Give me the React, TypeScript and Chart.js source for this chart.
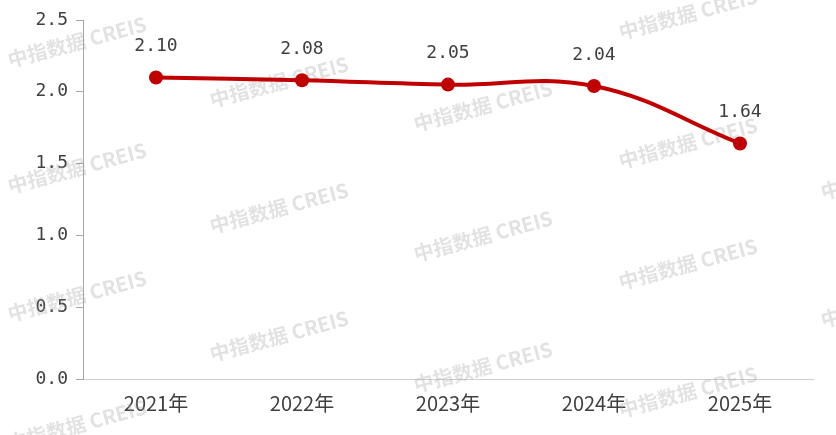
import React, { useEffect, useRef } from "react";
import { Chart, registerables } from "chart.js";

Chart.register(...registerables);

const categories = ["2021年", "2022年", "2023年", "2024年", "2025年"];
const values = [2.1, 2.08, 2.05, 2.04, 1.64];
const yTicks = [0, 0.5, 1.0, 1.5, 2.0, 2.5];

const WATERMARK = "中指数据 CREIS";
// watermark centres (layout only)
const wmCols = [
  { x: 77, ys: [42, 168, 296, 425] },
  { x: 279, ys: [82, 208, 336, 464] },
  { x: 483, ys: [106, 236, 367] },
  { x: 688, ys: [14, 143, 264, 392] },
  { x: 890, ys: [174, 302] },
];

const FONT = "'Noto Sans CJK SC', 'Noto Sans', sans-serif";
const MONO = "'DejaVu Sans Mono', monospace";

const watermarkPlugin = {
  id: "wm",
  beforeDatasetsDraw(chart: any) {
    const ctx = chart.ctx;
    ctx.save();
    ctx.font = `bold 20px ${FONT}`;
    ctx.fillStyle = "rgba(150,150,150,0.28)";
    ctx.textAlign = "center";
    ctx.textBaseline = "middle";
    for (const c of wmCols) {
      for (const y of c.ys) {
        ctx.save();
        ctx.translate(c.x, y);
        ctx.rotate((-15 * Math.PI) / 180);
        ctx.fillText(WATERMARK, 0, 0);
        ctx.restore();
      }
    }
    ctx.restore();
  },
};

const labelPlugin = {
  id: "valueLabels",
  afterDatasetsDraw(chart: any) {
    const ctx = chart.ctx;
    const meta = chart.getDatasetMeta(0);
    ctx.save();
    ctx.font = `18px ${MONO}`;
    ctx.fillStyle = "#404040";
    ctx.textAlign = "center";
    ctx.textBaseline = "middle";
    meta.data.forEach((pt: any, i: number) => {
      ctx.fillText(values[i].toFixed(2), pt.x, pt.y - 31);
    });
    ctx.restore();
  },
};

export default function App() {
  const ref = useRef<HTMLCanvasElement | null>(null);
  useEffect(() => {
    document.body.style.margin = "0";
    const chart = new Chart(ref.current as HTMLCanvasElement, {
      type: "line",
      data: {
        labels: categories,
        datasets: [
          {
            data: values,
            borderColor: "#c00000",
            backgroundColor: "#c00000",
            borderWidth: 4,
            pointRadius: 7,
            pointBackgroundColor: "#c00000",
            pointBorderWidth: 0,
            tension: 0.4,
          },
        ],
      },
      options: {
        animation: false,
        responsive: false,
        maintainAspectRatio: false,
        layout: { padding: { top: 20, right: 23, left: 0, bottom: 0 } },
        plugins: { legend: { display: false }, tooltip: { enabled: false } },
        scales: {
          x: {
            offset: true,
            grid: { display: false, drawTicks: false },
            border: { display: true, color: "#d0d0d0", width: 1 },
            ticks: { color: "#404040", font: { size: 20, family: FONT }, padding: 12 },
            afterFit(scale: any) {
              scale.height = 56;
            },
          },
          y: {
            min: 0,
            max: 2.5,
            afterBuildTicks(scale: any) {
              scale.ticks = yTicks.map((v) => ({ value: v }));
            },
            grid: { drawOnChartArea: false, drawTicks: true, tickLength: 7, color: "#a6a6a6" },
            border: { display: true, color: "#a6a6a6", width: 1 },
            ticks: {
              color: "#404040",
              font: { size: 18, family: MONO },
              padding: 8,
              callback: (v: any) => Number(v).toFixed(1),
            },
            afterFit(scale: any) {
              scale.width = 83;
            },
          },
        },
      },
      plugins: [watermarkPlugin, labelPlugin],
    });
    return () => chart.destroy();
  }, []);
  return (
    <div style={{ position: "fixed", left: 0, top: 0, width: 836, height: 435, background: "#fff" }}>
      <canvas ref={ref} width={836} height={435} style={{ width: 836, height: 435, display: "block" }} />
    </div>
  );
}
